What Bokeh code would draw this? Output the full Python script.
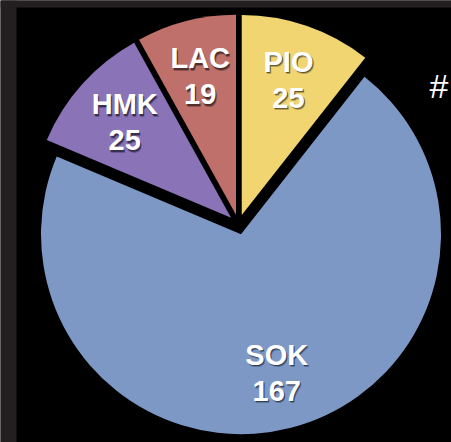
import math
from bokeh.plotting import figure
from bokeh.models import Range1d, ColumnDataSource, Label
from bokeh.embed import file_html
from bokeh.resources import INLINE
from bokeh.core.properties import value

# ---- data ----
categories = ["PIO", "SOK", "HMK", "LAC"]
counts = [25, 167, 25, 19]
colors = ["#f1d571", "#7e98c6", "#8a73b7", "#c0706a"]

# ---- layout (window-pixel coordinates, y measured upward from window bottom) ----
WIN_W, WIN_H = 451, 442
LEFT, TOP = 16, 7
FRAME_GRAY = "#231f20"

cx, cy = 238, WIN_H - 224
R = 200
explode = 10
label_r = 143
line_gap = 18

total = float(sum(counts))
xs, ys, starts, ends = [], [], [], []
lx, ly = [], []
acc = 0.0
for c in counts:
    a0 = acc / total * 360.0
    a1 = (acc + c) / total * 360.0
    acc += c
    mid = math.radians((a0 + a1) / 2.0)
    wx = cx + explode * math.sin(mid)
    wy = cy + explode * math.cos(mid)
    xs.append(wx)
    ys.append(wy)
    starts.append(math.radians(90 - a1))
    ends.append(math.radians(90 - a0))
    lx.append(wx + label_r * math.sin(mid))
    ly.append(wy + label_r * math.cos(mid))

src = ColumnDataSource(dict(x=xs, y=ys, start=starts, end=ends, color=colors))

p = figure(width=WIN_W, height=WIN_H, x_range=Range1d(0, WIN_W), y_range=Range1d(0, WIN_H),
           output_backend="svg", toolbar_location=None, title=None,
           x_axis_type=None, y_axis_type=None,
           min_border_left=0, min_border_right=0, min_border_top=0, min_border_bottom=0,
           background_fill_color="black", border_fill_color="black",
           outline_line_color=None)
p.grid.visible = False

# dark window frame strips (left and top)
p.quad(left=[0, 0], right=[LEFT, WIN_W], bottom=[0, WIN_H - TOP], top=[WIN_H, WIN_H + 5],
       fill_color=FRAME_GRAY, line_color=None)

p.wedge(x="x", y="y", radius=R, start_angle="start", end_angle="end",
        fill_color="color", line_color=None, source=src)

name_y = [v + line_gap for v in ly]
val_y = [v - line_gap for v in ly]
tx = lx + lx
ty = name_y + val_y
tt = categories + [str(c) for c in counts]

font = value("Liberation Sans")
for dx, dy, alpha in [(1.5, -2.5, 0.25), (1, -1.5, 0.45)]:
    sh = ColumnDataSource(dict(x=[v + dx for v in tx], y=[v + dy for v in ty], t=tt))
    p.text(x="x", y="y", text="t", source=sh, text_color="black", text_alpha=alpha,
           text_font=font, text_font_style="bold", text_font_size="29px",
           text_align="center", text_baseline="middle")

lab = ColumnDataSource(dict(x=tx, y=ty, t=tt))
p.text(x="x", y="y", text="t", source=lab, text_color="white",
       text_font=font, text_font_style="bold", text_font_size="29px",
       text_align="center", text_baseline="middle")

p.add_layout(Label(x=429, y=WIN_H - 85, text="#", text_color="white",
                   text_font="Liberation Sans", text_font_size="34px",
                   text_baseline="alphabetic"))

open("out.html", "w").write(file_html(p, INLINE))
